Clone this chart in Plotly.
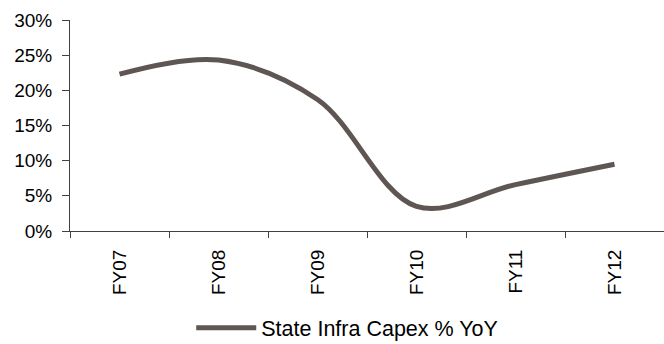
import plotly.graph_objects as go

# State infrastructure capex growth, year on year
fiscal_years = ["FY07", "FY08", "FY09", "FY10", "FY11", "FY12"]
capex_yoy_pct = [22.3, 24.3, 18.7, 3.5, 6.6, 9.5]
y_ticks = [0, 5, 10, 15, 20, 25, 30]
y_tick_labels = [f"{v}%" for v in y_ticks]

LINE_COLOR = "#5d5653"
AXIS_COLOR = "#404040"
FONT = "Liberation Sans, Arial, sans-serif"

fig = go.Figure()
fig.add_trace(go.Scatter(
    x=fiscal_years,
    y=capex_yoy_pct,
    mode="lines",
    name="State Infra Capex % YoY",
    line=dict(color=LINE_COLOR, width=5, shape="spline", smoothing=1.0),
))

fig.update_layout(
    width=664,
    height=344,
    margin=dict(l=70, r=0, t=20, b=113),
    paper_bgcolor="white",
    plot_bgcolor="white",
    font=dict(family=FONT, size=19, color="#000000"),
    showlegend=True,
    legend=dict(
        orientation="h",
        xref="container", yref="container",
        x=0.288, y=0.047,
        xanchor="left", yanchor="middle",
        itemwidth=60,
        font=dict(size=21.5),
        bgcolor="rgba(0,0,0,0)",
    ),
)

fig.update_xaxes(
    type="category",
    range=[-0.5, 5.5],
    tickson="boundaries",
    ticks="outside",
    ticklen=6,
    tickcolor=AXIS_COLOR,
    tickangle=-90,
    showline=True,
    linecolor=AXIS_COLOR,
    linewidth=1,
    showgrid=False,
    zeroline=False,
    ticklabelstandoff=10,
)

fig.update_yaxes(
    range=[0, 30],
    tickmode="array",
    tickvals=y_ticks,
    ticktext=y_tick_labels,
    ticks="outside",
    ticklen=7,
    tickcolor=AXIS_COLOR,
    showline=True,
    linecolor=AXIS_COLOR,
    linewidth=1,
    showgrid=False,
    zeroline=False,
    ticklabelstandoff=6,
)

fig.write_html("out.html")
